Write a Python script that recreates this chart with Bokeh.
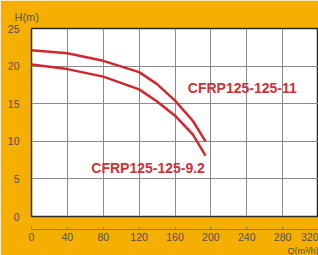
from bokeh.plotting import figure
from bokeh.models import Range1d, FixedTicker, LinearAxis, Title
from bokeh.embed import file_html
from bokeh.resources import INLINE
from bokeh.core.properties import value

# Data
q_11 = [0, 40, 80, 120, 140, 160, 180, 194]
h_11 = [22.1, 21.7, 20.7, 19.2, 17.6, 15.4, 12.7, 10.0]
q_92 = [0, 40, 80, 120, 140, 160, 180, 194]
h_92 = [20.2, 19.6, 18.6, 16.9, 15.3, 13.4, 10.9, 8.1]
name_11 = "CFRP125-125-11"
name_92 = "CFRP125-125-9.2"
x_ticks = [0, 40, 80, 120, 160, 200, 240, 280, 320]
y_ticks = [0, 5, 10, 15, 20, 25]

ORANGE = "#F4AF00"
RED = "#D0282C"
TXT = "#C8343A"
TICK = "#505050"

p = figure(width=318, height=255, output_backend="svg", toolbar_location=None,
           x_range=Range1d(0, 320), y_range=Range1d(0, 25),
           min_border_left=31, min_border_right=0, min_border_top=28, min_border_bottom=38)
p.background_fill_color = "white"
p.border_fill_color = ORANGE
p.outline_line_color = "#2a2a2a"
p.outline_line_width = 1.5

# spacer axis (nearest the frame)
sp = p.xaxis[0]
sp.ticker = FixedTicker(ticks=[0])
sp.axis_line_color = None
sp.major_tick_line_color = None
sp.minor_tick_line_color = None
sp.major_tick_out = 13
sp.major_tick_in = 0
sp.minor_tick_out = 0
sp.major_label_standoff = 0
sp.major_label_text_font_size = "0px"
sp.major_label_text_color = None

xa = LinearAxis(ticker=FixedTicker(ticks=x_ticks))
xa.axis_line_color = "#7a7a7a"
xa.axis_line_width = 1
xa.major_tick_in = 3
xa.major_tick_out = 0
xa.major_tick_line_color = "#7a7a7a"
xa.minor_tick_line_color = None
xa.major_label_standoff = 3
xa.major_label_text_font = "Liberation Sans"
xa.major_label_text_font_size = "10.5px"
xa.major_label_text_color = TICK
p.add_layout(xa, "below")

ya = p.yaxis[0]
ya.ticker = FixedTicker(ticks=y_ticks)
ya.axis_line_color = None
ya.major_tick_line_color = None
ya.minor_tick_line_color = None
ya.major_label_standoff = 6
ya.major_label_text_font = "Liberation Sans"
ya.major_label_text_font_size = "10.5px"
ya.major_label_text_color = TICK

p.xgrid.ticker = FixedTicker(ticks=x_ticks)
p.ygrid.ticker = FixedTicker(ticks=y_ticks)
for g in (p.xgrid[0], p.ygrid[0]):
    g.grid_line_color = "#8c8c8c"
    g.grid_line_width = 1

p.line(q_11, h_11, line_color=RED, line_width=2.5)
p.line(q_92, h_92, line_color=RED, line_width=2.5)

p.text(x=[235], y=[17.1], text=[name_11], text_color=TXT, text_font=value("Liberation Sans"),
       text_font_style="bold", text_font_size="14px", text_align="center", text_baseline="middle")
p.text(x=[130], y=[6.5], text=[name_92], text_color=TXT, text_font=value("Liberation Sans"),
       text_font_style="bold", text_font_size="14px", text_align="center", text_baseline="middle")

p.add_layout(Title(text="H(m)", align="left", offset=-17, standoff=11, text_font="Liberation Sans",
                   text_font_size="11px", text_font_style="normal", text_color=TICK), "above")
p.add_layout(Title(text="Q(m³/h)", align="right", standoff=0, text_font="Liberation Sans",
                   text_font_size="9px", text_font_style="normal", text_color=TICK), "below")

open("out.html", "w").write(file_html(p, INLINE))
